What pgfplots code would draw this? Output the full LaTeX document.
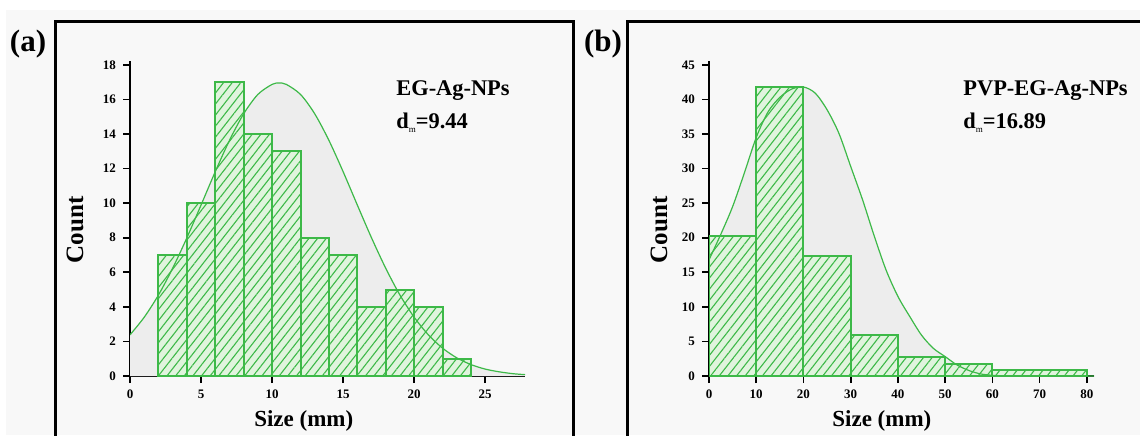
\documentclass[border=0pt]{standalone}
\usepackage{fontspec}
\setmainfont{Liberation Serif}
\usepackage{pgfplots}
\pgfplotsset{compat=1.18}
\usetikzlibrary{patterns.meta}

\definecolor{bargreen}{RGB}{61,185,72}
\definecolor{barfill}{RGB}{224,244,221}
\definecolor{bggray}{RGB}{248,248,248}
\definecolor{curvefill}{RGB}{237,237,237}

\pgfplotsset{
  histo/.style={
    scale only axis,
    height=157.3pt,
    anchor=south west,
    axis lines=left,
    axis line style={-, line width=1pt, black},
    tick align=outside,
    major tick length=3.5pt,
    tick style={black, line width=0.8pt},
    xmin=0, ymin=0,
    /pgf/number format/assume math mode=true,
    tick label style={font=\fontsize{6.5}{7}\selectfont\bfseries},
    xlabel style={font=\fontsize{11.5}{12}\selectfont\bfseries},
    ylabel style={font=\fontsize{12.5}{13}\selectfont\bfseries},
    xlabel={Size (mm)},
    ylabel={Count},
  },
  bars/.style={
    ybar interval, draw=bargreen, line width=1pt, fill=barfill,
    postaction={pattern={Lines[angle=52, distance=3.4pt, line width=0.55pt]}, pattern color=bargreen},
  },
  fitfill/.style={draw=none, fill=curvefill, smooth},
  fitline/.style={bargreen, line width=0.6pt, smooth},
}

\begin{document}
\begin{tikzpicture}
\useasboundingbox (0,0) rectangle (570pt,217.5pt);
\clip (0,0) rectangle (570pt,217.5pt);
\fill[bggray] (3pt,0) rectangle (570pt,212.5pt);

% frames
\draw[line width=1.5pt] (27.5pt,-5pt) |- (286.8pt,206.5pt) -- (286.8pt,-5pt);
\draw[line width=1.5pt] (313.5pt,-5pt) |- (580pt,206.5pt);

\node[font=\fontsize{15.5}{16}\selectfont\bfseries] at (14pt,195.5pt) {(a)};
\node[font=\fontsize{15.5}{16}\selectfont\bfseries] at (301.5pt,195.5pt) {(b)};

% (a) EG-Ag-NPs
\begin{axis}[histo,
  at={(65pt,29.5pt)},
  width=197.5pt,
  xmax=27.8, ymax=18.2,
  xtick={0,5,10,15,20,25},
  ytick={0,2,4,6,8,10,12,14,16,18},
  xlabel style={at={(axis description cs:0.44,-0.143)}, anchor=center},
  ylabel style={at={(axis description cs:-0.139,0.465)}, anchor=center},
]
\addplot[fitfill] coordinates {
  (0,2.38) (1,3.40) (2,4.68) (3,6.23) (4,7.99) (5,9.89) (6,11.82) (7,13.63)
  (8,15.17) (9,16.29) (10,16.87) (10.5,16.95) (11,16.87) (12,16.29) (13,15.17)
  (14,13.63) (15,11.82) (16,9.89) (17,7.99) (18,6.23) (19,4.68) (20,3.40)
  (21,2.38) (22,1.61) (23,1.05) (24,0.66) (25,0.40) (26,0.24) (27,0.13) (27.8,0.08)
} \closedcycle;
\addplot[bars] coordinates {
  (2,7) (4,10) (6,17) (8,14) (10,13) (12,8) (14,7) (16,4) (18,5) (20,4) (22,1) (24,1)
};
\addplot[fitline] coordinates {
  (0,2.38) (1,3.40) (2,4.68) (3,6.23) (4,7.99) (5,9.89) (6,11.82) (7,13.63)
  (8,15.17) (9,16.29) (10,16.87) (10.5,16.95) (11,16.87) (12,16.29) (13,15.17)
  (14,13.63) (15,11.82) (16,9.89) (17,7.99) (18,6.23) (19,4.68) (20,3.40)
  (21,2.38) (22,1.61) (23,1.05) (24,0.66) (25,0.40) (26,0.24) (27,0.13) (27.8,0.08)
};
\end{axis}

% (b) PVP-EG-Ag-NPs
\begin{axis}[histo,
  at={(354.5pt,29.5pt)},
  width=192.5pt,
  xmax=81.5, ymax=45.5,
  xtick={0,10,20,30,40,50,60,70,80},
  ytick={0,5,10,15,20,25,30,35,40,45},
  xlabel style={at={(axis description cs:0.449,-0.143)}, anchor=center},
  ylabel style={at={(axis description cs:-0.13,0.465)}, anchor=center},
]
\addplot[fitfill] coordinates {
  (0,16.8) (2.5,20.5) (5,24.5) (7.5,29.4) (10,34.5) (12.5,38.2) (15,40.3)
  (17.5,41.5) (20,41.8) (22.5,40.9) (25,38.5) (27.5,35.1) (30,30.3) (32.5,25.5)
  (35,20.2) (37.5,15.3) (40,11.5) (42.5,8.6) (45,5.9) (47.5,4.0) (50,2.8)
  (52.5,1.6) (55,0.8) (57.5,0.3) (60,0.1) (62.5,0.02) (65,0) (81.5,0)
} \closedcycle;
\addplot[bars] coordinates {
  (0,20.3) (10,41.8) (20,17.3) (30,5.9) (40,2.8) (50,1.7) (60,0.8) (80,0.8)
};
\addplot[fitline] coordinates {
  (0,16.8) (2.5,20.5) (5,24.5) (7.5,29.4) (10,34.5) (12.5,38.2) (15,40.3)
  (17.5,41.5) (20,41.8) (22.5,40.9) (25,38.5) (27.5,35.1) (30,30.3) (32.5,25.5)
  (35,20.2) (37.5,15.3) (40,11.5) (42.5,8.6) (45,5.9) (47.5,4.0) (50,2.8)
  (52.5,1.6) (55,0.8) (57.5,0.3) (60,0.1) (62.5,0.02) (65,0) (81.5,0)
};
\end{axis}

% annotations
\begin{scope}[font=\fontsize{11.2}{12}\selectfont\bfseries]
\node[anchor=base west, inner sep=0pt] at (198pt,170pt) {EG-Ag-NPs};
\node[anchor=base west, inner sep=0pt] at (198pt,153.5pt)
  {d\raisebox{-2.4pt}{\fontsize{4.5}{5}\selectfont\mdseries m}=9.44};
\node[anchor=base west, inner sep=0pt] at (481.5pt,170pt) {PVP-EG-Ag-NPs};
\node[anchor=base west, inner sep=0pt] at (481.5pt,153.5pt)
  {d\raisebox{-2.4pt}{\fontsize{4.5}{5}\selectfont\mdseries m}=16.89};
\end{scope}
\end{tikzpicture}
\end{document}
